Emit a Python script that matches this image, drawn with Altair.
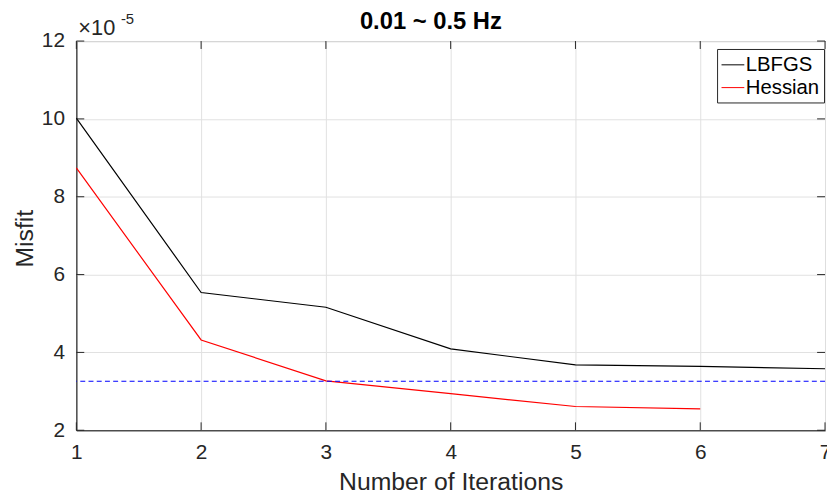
import altair as alt
import pandas as pd

# Values in units of 1e-5
iters_lbfgs = [1, 2, 3, 4, 5, 6, 7]
misfit_lbfgs = [10.02, 5.54, 5.16, 4.09, 3.68, 3.64, 3.58]
iters_hess = [1, 2, 3, 4, 5, 6]
misfit_hess = [8.74, 4.32, 3.27, 2.94, 2.61, 2.55]
target_misfit = [3.26]
series_names = ["LBFGS", "Hessian"]
series_colors = ["#000000", "#ff0000"]
x_ticks = [1, 2, 3, 4, 5, 6, 7]
y_ticks = [2, 4, 6, 8, 10, 12]
title_text = ["0.01 ~ 0.5 Hz"]
exp_base = ["×10"]
exp_power = ["-5"]

FONT = "Liberation Sans"
W, H = 756, 393

df = pd.DataFrame({
    "iter": iters_lbfgs + iters_hess,
    "misfit": misfit_lbfgs + misfit_hess,
    "method": ["LBFGS"] * len(iters_lbfgs) + ["Hessian"] * len(iters_hess),
})

xscale = alt.Scale(domain=[1, 7], nice=False, zero=False)
yscale = alt.Scale(domain=[2, 12], nice=False, zero=False)

common_axis = dict(
    ticks=False, tickSize=0, grid=True, gridColor="#e1e1e1", gridWidth=1,
    domainColor="#262626", domainWidth=1, labelColor="#262626",
    labelFont=FONT, labelFontSize=21, labelFlush=False, labelOverlap=False,
    titleFont=FONT, titleFontSize=25, titleFontWeight="normal",
    titleColor="#262626", titleBaseline="alphabetic", format="d",
)

xaxis = alt.Axis(values=x_ticks, title="Number of Iterations", labelPadding=12,
                 titleY=60, **common_axis)
yaxis = alt.Axis(values=y_ticks, title="Misfit", labelPadding=12,
                 titleX=-44, titleY=199, titleAngle=270, titleAlign="center",
                 **common_axis)

lines = alt.Chart(df).mark_line(strokeWidth=1.2).encode(
    x=alt.X("iter:Q", scale=xscale, axis=xaxis),
    y=alt.Y("misfit:Q", scale=yscale, axis=yaxis),
    color=alt.Color(
        "method:N",
        scale=alt.Scale(domain=series_names, range=series_colors),
        sort=series_names,
        legend=alt.Legend(
            orient="none", legendX=647, legendY=8, title=None,
            symbolType="stroke", symbolSize=529, symbolStrokeWidth=1,
            labelFont=FONT, labelFontSize=20.5, labelColor="#000000",
            labelOffset=1, strokeColor="#262626", fillColor="#ffffff",
            padding=4, rowPadding=0,
        ),
    ),
)

target = alt.Chart(pd.DataFrame({"t": target_misfit})).mark_rule(
    strokeWidth=1.2, strokeDash=[5, 3.3]
).encode(y=alt.Y("t:Q", scale=yscale, axis=yaxis), color=alt.value("#0000ff"))

xt = pd.DataFrame({"x": x_ticks})
yt = pd.DataFrame({"y": y_ticks})
tick_style = dict(strokeWidth=1)
tick_col = alt.value("#262626")
xt_bottom = alt.Chart(xt).mark_rule(**tick_style).encode(
    x=alt.X("x:Q", scale=xscale, axis=xaxis), y=alt.value(H), y2=alt.value(H - 8),
    color=tick_col)
xt_top = alt.Chart(xt).mark_rule(**tick_style).encode(
    x=alt.X("x:Q", scale=xscale, axis=xaxis), y=alt.value(0), y2=alt.value(8),
    color=tick_col)
yt_left = alt.Chart(yt).mark_rule(**tick_style).encode(
    y=alt.Y("y:Q", scale=yscale, axis=yaxis), x=alt.value(0), x2=alt.value(8),
    color=tick_col)
yt_right = alt.Chart(yt).mark_rule(**tick_style).encode(
    y=alt.Y("y:Q", scale=yscale, axis=yaxis), x=alt.value(W), x2=alt.value(W - 8),
    color=tick_col)

title = alt.Chart(pd.DataFrame({"t": title_text})).mark_text(
    font=FONT, fontSize=24, fontWeight="bold",
    align="center", baseline="alphabetic"
).encode(text="t:N", x=alt.value(358), y=alt.value(-12.3), color=alt.value("#000000"))

exp1 = alt.Chart(pd.DataFrame({"t": exp_base})).mark_text(
    font=FONT, fontSize=22, align="left", baseline="alphabetic"
).encode(text="t:N", x=alt.value(2), y=alt.value(-5.7), color=alt.value("#262626"))
exp2 = alt.Chart(pd.DataFrame({"t": exp_power})).mark_text(
    font=FONT, fontSize=15, align="left", baseline="alphabetic"
).encode(text="t:N", x=alt.value(45), y=alt.value(-17.3), color=alt.value("#262626"))

chart = alt.layer(
    lines, target, xt_bottom, xt_top, yt_left, yt_right, title, exp1, exp2
).properties(
    width=W, height=H,
    padding={"left": 69, "top": 31, "right": 2, "bottom": 64},
    autosize=alt.AutoSizeParams(type="none"),
    background="#ffffff",
).configure_view(stroke="#262626", strokeWidth=1)

chart.save("out.html", embed_options={"renderer": "svg", "actions": False})
